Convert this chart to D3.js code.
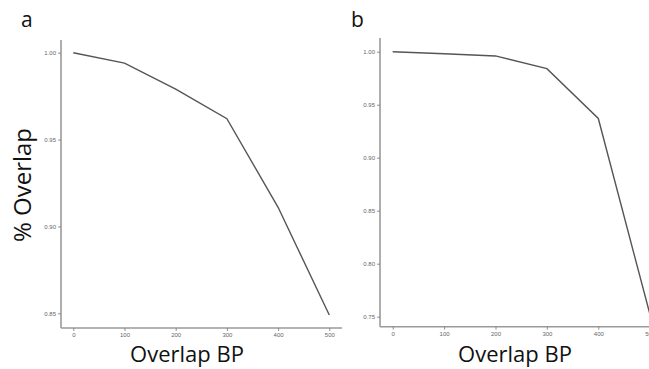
<!DOCTYPE html>
<html><head><meta charset="utf-8">
<script src="https://cdn.jsdelivr.net/npm/d3@7"></script>
<style>body{margin:0;background:#fff}svg{display:block}</style>
</head><body>
<svg id="c" width="649" height="369"></svg>
<script>
const overlapBP = [0, 100, 200, 300, 400, 500];
const seriesA = [1.000, 0.994, 0.979, 0.962, 0.911, 0.849];
const seriesB = [1.000, 0.998, 0.996, 0.984, 0.937, 0.753];
const xTicks = [0, 100, 200, 300, 400, 500];
const yTicksA = [0.85, 0.90, 0.95, 1.00];
const yTicksB = [0.75, 0.80, 0.85, 0.90, 0.95, 1.00];
const panelLabels = ["a", "b"];
const xTitle = "Overlap BP";
const yTitle = "% Overlap";

const svg = d3.select("#c");
const fmt = d3.format(".2f");

function panel(cfg) {
  const x = d3.scaleLinear().domain([0, 500]).range(cfg.xr);
  const y = d3.scaleLinear().domain([cfg.yd[0], 1.0]).range(cfg.yr);
  const g = svg.append("g");
  const xLeft = cfg.axisX, yBottom = cfg.axisY;
  // axis lines
  g.append("line").attr("x1", xLeft).attr("x2", xLeft).attr("y1", cfg.top).attr("y2", yBottom)
    .attr("stroke", "#9a9a9a").attr("stroke-width", 1.6);
  g.append("line").attr("x1", xLeft).attr("x2", cfg.right).attr("y1", yBottom).attr("y2", yBottom)
    .attr("stroke", "#9a9a9a").attr("stroke-width", 1.6);
  const ya = g.append("g").attr("transform", `translate(${xLeft},0)`)
    .call(d3.axisLeft(y).tickValues(cfg.yt).tickFormat(fmt).tickSize(3).tickPadding(2).tickSizeOuter(0));
  const xa = g.append("g").attr("transform", `translate(0,${yBottom})`)
    .call(d3.axisBottom(x).tickValues(xTicks).tickSize(3).tickPadding(2).tickSizeOuter(0));
  [ya, xa].forEach(a => {
    a.select(".domain").remove();
    a.selectAll("line").attr("stroke", "#777").attr("stroke-width", 0.8);
    a.selectAll("text").attr("fill", "#666").style("font-family", "Liberation Sans, Arial, sans-serif").style("font-size", "6px");
  });
  const line = d3.line().x((d, i) => x(overlapBP[i])).y(d => y(d));
  g.append("path").datum(cfg.data).attr("d", line).attr("fill", "none")
    .attr("stroke", "#555").attr("stroke-width", 1.4);
  g.append("text").attr("x", cfg.lx).attr("y", 27).text(cfg.label)
    .style("font-family", "Open Sans, sans-serif").style("font-size", "21px").attr("fill", "#111");
  g.append("text").attr("x", cfg.tx).attr("y", 362).attr("text-anchor", "middle").text(xTitle)
    .style("font-family", "Open Sans, sans-serif").style("font-size", "22px").attr("fill", "#111");
}

panel({xr: [73.3, 329.3], yd: [0.85], yr: [313.3, 52.7], yt: yTicksA, data: seriesA,
  axisX: 61, axisY: 328, top: 40, right: 342, label: panelLabels[0], lx: 21, tx: 187});
panel({xr: [392.7, 649.7], yd: [0.75], yr: [316.7, 51.7], yt: yTicksB, data: seriesB,
  axisX: 380, axisY: 326.7, top: 38, right: 680, label: panelLabels[1], lx: 351, tx: 515});

svg.append("text").attr("transform", "translate(31,185) rotate(-90)").attr("text-anchor", "middle")
  .text(yTitle).style("font-family", "Open Sans, sans-serif").style("font-size", "24px").attr("fill", "#111");
</script>
</body></html>
